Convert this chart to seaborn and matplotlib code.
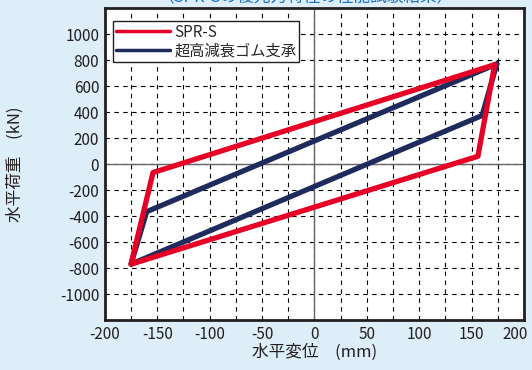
import matplotlib
matplotlib.use("Agg")
import matplotlib.pyplot as plt
import matplotlib.transforms as mtransforms
import seaborn as sns
import pandas as pd
from matplotlib.ticker import MultipleLocator

sns.set_style("white")
plt.rcParams['font.family'] = ['Noto Sans CJK JP', 'DejaVu Sans']

# Data (vertices of hysteresis loops, closed)
spr_x = [172, 156, -175, -154, 172]
spr_y = [765, 60, -770, -65, 765]
hdr_x = [174, 160, -175, -160, 174]
hdr_y = [770, 374, -770, -366, 770]
series_names = ["SPR-S", "超高減衰ゴム支承"]
x_ticks = [-200, -150, -100, -50, 0, 50, 100, 150, 200]
y_ticks = [-1000, -800, -600, -400, -200, 0, 200, 400, 600, 800, 1000]

df = pd.concat([
    pd.DataFrame({"x": spr_x, "y": spr_y, "s": series_names[0], "o": range(len(spr_x))}),
    pd.DataFrame({"x": hdr_x, "y": hdr_y, "s": series_names[1], "o": range(len(hdr_x))}),
])

bg = "#ddeef9"
fig = plt.figure(figsize=(5.32, 3.70), dpi=100, facecolor=bg)
ax = fig.add_axes([0.197, 0.135, 0.788, 0.843])
ax.set_facecolor("white")

ax.set_xlim(-200, 200)
ax.set_ylim(-1200, 1200)
ax.xaxis.set_major_locator(MultipleLocator(50))
ax.xaxis.set_minor_locator(MultipleLocator(25))
ax.yaxis.set_major_locator(MultipleLocator(200))

ax.grid(True, which="minor", axis="x", color="black", linestyle=(0, (4, 4)), linewidth=0.8)
ax.grid(True, which="major", axis="x", color="black", linestyle=(0, (4, 4)), linewidth=0.8)
ax.grid(True, which="major", axis="y", color="black", linestyle=(0, (4, 4)), linewidth=0.8)
ax.axhline(0, color="#666666", linewidth=1.0, zorder=1.5)
ax.axvline(0, color="#666666", linewidth=1.0, zorder=1.5)

colors = {series_names[0]: "#e60026", series_names[1]: "#1f2b5c"}
sns.lineplot(data=df[df.s == series_names[1]], x="x", y="y", sort=False, estimator=None,
             color=colors[series_names[1]], linewidth=3.8, ax=ax, label=series_names[1], zorder=3)
sns.lineplot(data=df[df.s == series_names[0]], x="x", y="y", sort=False, estimator=None,
             color=colors[series_names[0]], linewidth=3.8, ax=ax, label=series_names[0], zorder=4)

ax.set_xticks(x_ticks)
ax.set_yticks(y_ticks)
ax.set_xticklabels([str(v) for v in x_ticks])
ax.set_yticklabels([str(v) for v in y_ticks])
ax.tick_params(axis="both", which="both", direction="in", labelsize=11, length=0,
               colors="#231f20", pad=4)
for s in ax.spines.values():
    s.set_color("#231f20")
    s.set_linewidth(2)

# shift last x tick label left so it stays inside the figure
last = ax.get_xticklabels()[-1]
last.set_transform(last.get_transform() + mtransforms.ScaledTranslation(-9 / 100, 0, fig.dpi_scale_trans))

ax.set_xlabel("水平変位　(mm)", fontsize=12, color="#231f20", labelpad=1)
ax.set_ylabel("水平荷重　(kN)", fontsize=12, color="#231f20", labelpad=26)

h, l = ax.get_legend_handles_labels()
order = [l.index(series_names[0]), l.index(series_names[1])]
leg = ax.legend([h[i] for i in order], [l[i] for i in order], loc="upper left",
                bbox_to_anchor=(0.02, 0.96), fontsize=11, frameon=True, fancybox=False,
                edgecolor="#231f20", framealpha=1, handlelength=3.5, handletextpad=0.3,
                borderpad=0.2, labelspacing=0.1, borderaxespad=0)
for line in leg.get_lines():
    line.set_linewidth(2.5)
leg.get_frame().set_linewidth(1.0)

fig.text(0.575, 1.008, "（SPR-Sの復元力特性の性能試験結果）", ha="center", va="center",
         fontsize=12, color="#1a6fc0")

fig.savefig("out.png", dpi=100, facecolor=bg)
